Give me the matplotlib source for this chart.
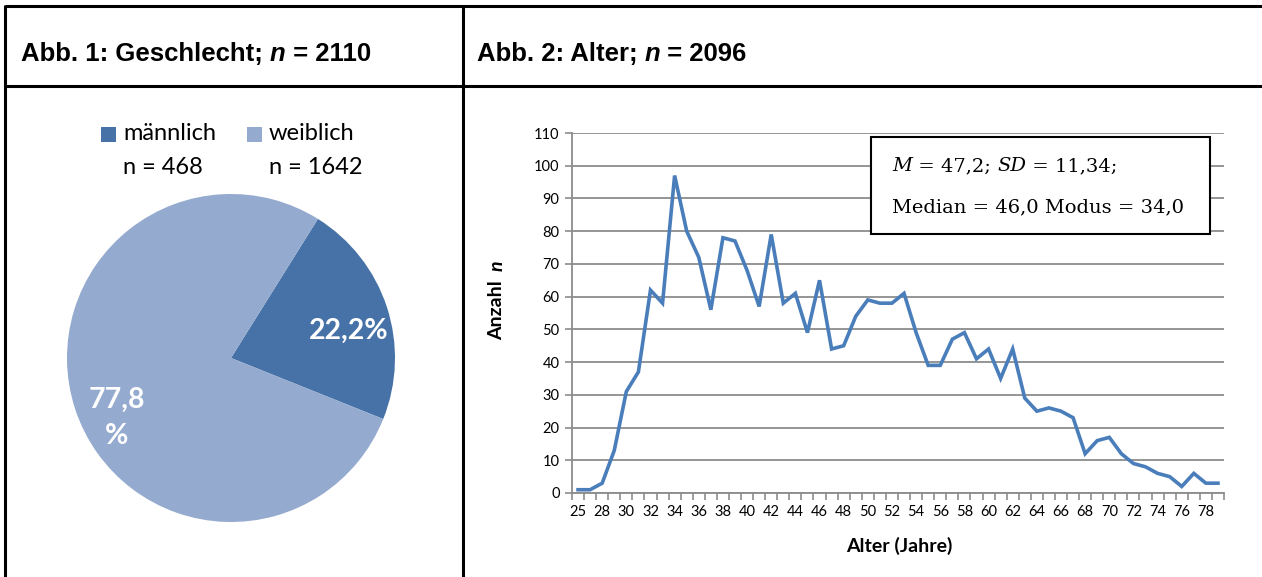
import numpy as np
import matplotlib
matplotlib.use("Agg")
import matplotlib.pyplot as plt
from matplotlib.patches import Rectangle

# Abb. 1 - Geschlecht
gender_labels = ["männlich", "weiblich"]
gender_n = [468, 1642]
gender_pct = ["22,2%", "77,8\n%"]
gender_colors = ["#4672A8", "#94AACF"]

# Abb. 2 - Alter
ages = [25] + list(range(27, 80))
counts = [1, 1, 3, 13, 31, 37, 62, 58, 97, 80,
          72, 56, 78, 77, 68, 57, 79, 58, 61, 49,
          65, 44, 45, 54, 59, 58, 58, 61, 49, 39,
          39, 47, 49, 41, 44, 35, 44, 29, 25, 26,
          25, 23, 12, 16, 17, 12, 9, 8, 6, 5,
          2, 6, 3, 3]
stats_line1 = [("M", "italic"), (" = 47,2; ", "normal"), ("SD", "italic"), (" = 11,34;", "normal")]
stats_line2 = [("Median = 46,0 Modus = 34,0", "normal")]

W, H = 1262, 577


def px(x, y, w, h):
    # pixel box (top-left origin) -> figure fraction
    return [x / W, 1 - (y + h) / H, w / W, h / H]


fig = plt.figure(figsize=(W / 100, H / 100), dpi=100)
renderer = fig.canvas.get_renderer()

bg = fig.add_axes([0, 0, 1, 1], zorder=0)
bg.set_xlim(0, W)
bg.set_ylim(H, 0)
bg.axis("off")

top = fig.add_axes([0, 0, 1, 1], zorder=5)
top.set_xlim(0, W)
top.set_ylim(H, 0)
top.axis("off")
top.patch.set_alpha(0)


def draw_pieces(ax, x, y, pieces, rotation=0, **kw):
    for s, style in pieces:
        if rotation == 0:
            t = ax.text(x, y, s, ha="left", va="center", fontstyle=style, **kw)
            x += t.get_window_extent(renderer=renderer).width
        else:
            t = ax.text(x, y, s, ha="center", va="bottom", rotation=90, fontstyle=style, **kw)
            y -= t.get_window_extent(renderer=renderer).height


# table frame
lw = 2.2
bg.plot([5, W], [6, 6], color="black", lw=lw, solid_capstyle="butt")
bg.plot([5, W], [86, 86], color="black", lw=lw, solid_capstyle="butt")
bg.plot([5, 5], [5, H], color="black", lw=lw, solid_capstyle="butt")
bg.plot([463, 463], [5, H], color="black", lw=lw, solid_capstyle="butt")

hfont = dict(family="Liberation Sans", fontweight="bold", fontsize=18.5, color="black")
draw_pieces(bg, 21, 54, [("Abb. 1: Geschlecht; ", "normal"), ("n", "italic"), (" = 2110", "normal")], **hfont)
draw_pieces(bg, 477, 54, [("Abb. 2: Alter; ", "normal"), ("n", "italic"), (" = 2096", "normal")], **hfont)

# pie
pie_ax = fig.add_axes(px(67, 194, 328, 328))
wedges, texts, autotexts = pie_ax.pie(gender_n, colors=gender_colors, startangle=58,
                                      counterclock=False, autopct="%1.1f%%",
                                      wedgeprops=dict(linewidth=0))
pie_ax.set_xlim(-1, 1)
pie_ax.set_ylim(-1, 1)
for t, lab in zip(autotexts, gender_pct):
    t.set_text(lab)
    t.set_color("white")
    t.set_fontweight("bold")
    t.set_family("Lato")
    t.set_fontsize(20.5)
    t.set_ha("center")
    t.set_va("center")
    t.set_linespacing(1.45)
autotexts[0].set_position((0.72, 0.165))
autotexts[1].set_position((-0.695, -0.366))

# legend
lfont = dict(family="Lato", fontsize=17, color="black")
for i, (lab, n) in enumerate(zip(gender_labels, gender_n)):
    x0 = 101 + i * 146
    bg.add_patch(Rectangle((x0, 127), 15, 15, color=gender_colors[i], lw=0))
    bg.text(x0 + 22, 134, lab, ha="left", va="center", **lfont)
    bg.text(x0 + 22, 167, "n = %d" % n, ha="left", va="center", **lfont)

# line chart
ax = fig.add_axes(px(572, 133, 652, 360))
xs = np.arange(len(ages))
ax.plot(xs, counts, color="#4A7EBB", lw=2.6, solid_joinstyle="miter")
ax.set_xlim(-0.5, len(ages) - 0.5)
ax.set_ylim(0, 110)
ax.set_yticks(range(0, 111, 10))
ax.set_xticks(np.arange(len(ages) + 1) - 0.5)
ax.set_xticklabels([])
ax.set_xticks(xs[::2], minor=True)
ax.set_xticklabels([str(a) for a in ages[::2]], minor=True)
ax.grid(axis="y", color="#8C8C8C", lw=1.3)
ax.set_axisbelow(True)
for s in ["top", "right"]:
    ax.spines[s].set_visible(False)
for s in ["left", "bottom"]:
    ax.spines[s].set_color("#8C8C8C")
    ax.spines[s].set_linewidth(1.3)
ax.tick_params(axis="x", which="major", length=5, color="#8C8C8C", width=1.2)
ax.tick_params(axis="x", which="minor", length=0, pad=9)
ax.tick_params(axis="y", length=5, color="#8C8C8C", width=1.2, pad=4)
for lab in ax.get_xticklabels(minor=True) + ax.get_yticklabels():
    lab.set_family("Lato")
    lab.set_fontsize(10.5)

afont = dict(family="Lato", fontweight="bold", fontsize=14, color="black")
bg.text(899, 546, "Alter (Jahre)", ha="center", va="center", **afont)
draw_pieces(bg, 497, 340, [("Anzahl  ", "normal"), ("n", "italic")], rotation=90, **afont)

# stats box
top.add_patch(Rectangle((871, 137), 339, 97, facecolor="white", edgecolor="black", lw=1.5))
sfont = dict(family="DejaVu Serif", fontsize=14, color="black")
draw_pieces(top, 892, 166, stats_line1, **sfont)
draw_pieces(top, 892, 207, stats_line2, **sfont)

fig.savefig("out.png", dpi=100)
